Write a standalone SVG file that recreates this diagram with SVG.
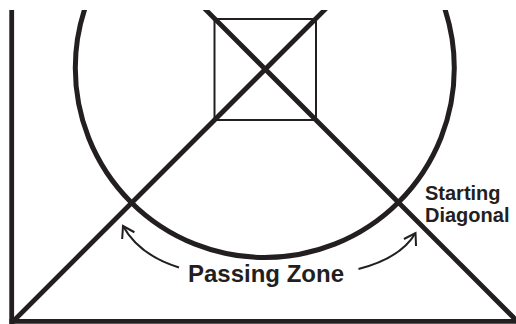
<svg xmlns="http://www.w3.org/2000/svg" width="516" height="324" viewBox="0 0 516 324">
<style>
.ln{stroke:#231f20;fill:none;stroke-linecap:butt}
.thick{stroke-width:4.8}
.thin{stroke-width:2}
.lbl{font-family:"Liberation Sans",Arial,sans-serif;font-weight:bold;fill:#231f20}
.arr{stroke:#231f20;stroke-width:2;fill:none}
</style>
<defs>
<clipPath id="clip"><rect x="0" y="10" width="516" height="314"/></clipPath>
<marker id="ah" viewBox="0 0 14 16" refX="12" refY="8" markerWidth="14" markerHeight="16" markerUnits="userSpaceOnUse" orient="auto">
<path d="M1,1 L12,8 L1,15" fill="none" stroke="#231f20" stroke-width="2"/>
</marker>
</defs>
<rect width="516" height="324" fill="#ffffff"/>
<g clip-path="url(#clip)">
<g id="axes">
<line class="ln thick" x1="11.7" y1="0" x2="11.7" y2="324"/>
<line class="ln thick" x1="9.5" y1="321.3" x2="516" y2="321.3"/>
</g>
<g id="circle">
<circle class="ln" stroke-width="5" cx="264.8" cy="68" r="189.5"/>
</g>
<g id="square">
<rect class="ln thin" x="214.5" y="19" width="101.5" height="101"/>
</g>
<g id="diagonals">
<line class="ln thick" x1="12" y1="322.5" x2="334.5" y2="0"/>
<line class="ln thick" x1="196" y1="0" x2="520" y2="324"/>
</g>
</g>
<g id="label-starting">
<text class="lbl" font-size="20" x="425" y="200">Starting</text>
<text class="lbl" font-size="20" x="425" y="222">Diagonal</text>
</g>
<g id="label-passing">
<text class="lbl" font-size="24" x="266" y="281.5" text-anchor="middle">Passing Zone</text>
</g>
<g id="connectors">
<path class="arr" d="M179,267.5 Q139,255 123,226" marker-end="url(#ah)"/>
<path class="arr" d="M358.5,269 Q401,258 415.5,233" marker-end="url(#ah)"/>
</g>
</svg>
